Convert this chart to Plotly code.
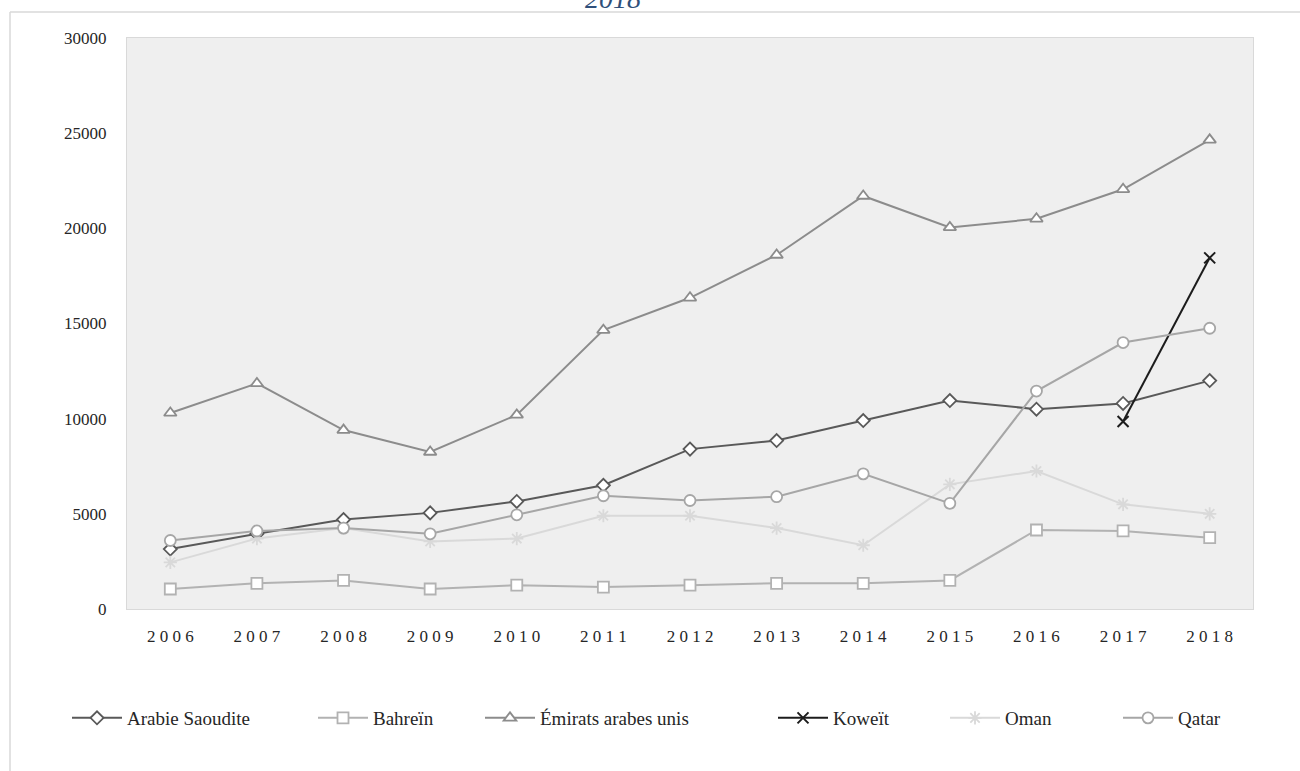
import plotly.graph_objects as go

years = ["2006", "2007", "2008", "2009", "2010", "2011", "2012",
         "2013", "2014", "2015", "2016", "2017", "2018"]
year_ticktext = [" ".join(y) for y in years]

arabie_saoudite = [3150, 3950, 4700, 5050, 5650, 6500, 8400, 8850, 9900, 10950, 10500, 10800, 12000]
bahrein = [1050, 1350, 1500, 1050, 1250, 1150, 1250, 1350, 1350, 1500, 4150, 4100, 3750]
emirats = [10300, 11850, 9400, 8250, 10200, 14650, 16350, 18600, 21700, 20050, 20500, 22050, 24650]
koweit = [None, None, None, None, None, None, None, None, None, None, None, 9850, 18450]
oman = [2450, 3700, 4250, 3550, 3700, 4900, 4900, 4250, 3350, 6550, 7250, 5500, 5000]
qatar = [3600, 4100, 4250, 3950, 4950, 5950, 5700, 5900, 7100, 5550, 11450, 14000, 14750]

series_names = ["Arabie Saoudite", "Bahreïn", "Émirats arabes unis", "Koweït", "Oman", "Qatar"]
series_values = [arabie_saoudite, bahrein, emirats, koweit, oman, qatar]

title_text = "2018"

FONT = "Liberation Serif, DejaVu Serif, serif"

# page geometry (pixels)
W, H = 1300, 771
L, R, T, B = 127, 1253, 38, 609


def px_x(p):
    return (p - L) / (R - L)


def px_y(p):
    return (B - p) / (B - T)


styles = [
    dict(color="#595959", symbol="diamond", size=10, fill="white", mlw=1.8),
    dict(color="#b2b2b2", symbol="square", size=11, fill="white", mlw=1.8),
    dict(color="#8c8c8c", symbol="triangle-up", size=11, fill="white", mlw=1.8),
    dict(color="#1c1c1c", symbol="x-thin", size=11, fill="#1c1c1c", mlw=2),
    dict(color="#d9d9d9", symbol="asterisk", size=11, fill="#d9d9d9", mlw=1.8),
    dict(color="#a6a6a6", symbol="circle", size=11, fill="white", mlw=1.8),
]

legend_line_starts = [72, 318, 485, 778, 950, 1123]
legend_keys = ["legend", "legend2", "legend3", "legend4", "legend5", "legend6"]

fig = go.Figure()
for name, vals, st, lk in zip(series_names, series_values, styles, legend_keys):
    fig.add_trace(go.Scatter(
        x=years, y=vals, name=name, mode="lines+markers",
        line=dict(color=st["color"], width=2),
        marker=dict(symbol=st["symbol"], size=st["size"], color=st["fill"],
                    line=dict(color=st["color"], width=st["mlw"])),
        connectgaps=False, legend=lk,
    ))

layout_legends = {}
for lk, start in zip(legend_keys, legend_line_starts):
    layout_legends[lk] = dict(
        orientation="h", x=px_x(start - 5), xanchor="left",
        y=px_y(718), yanchor="middle", bgcolor="rgba(0,0,0,0)",
        font=dict(family=FONT, size=19, color="#262626"),
        itemwidth=50, borderwidth=0,
    )

fig.update_layout(
    width=W, height=H, autosize=False,
    margin=dict(l=L, r=W - R, t=T, b=H - B, pad=0),
    paper_bgcolor="white", plot_bgcolor="#efefef",
    showlegend=True,
    xaxis=dict(type="category", range=[-0.5, 12.5], tickvals=years, ticktext=year_ticktext,
               showgrid=False, zeroline=False, showline=True, mirror=True,
               linecolor="#d9d9d9", linewidth=1, ticks="",
               ticklabelstandoff=12,
               tickfont=dict(family=FONT, size=17, color="#262626")),
    yaxis=dict(range=[0, 30000], dtick=5000, tickformat="d",
               showgrid=False, zeroline=False, showline=True, mirror=True,
               linecolor="#d9d9d9", linewidth=1, ticks="",
               ticklabelstandoff=16,
               tickfont=dict(family=FONT, size=17, color="#262626")),
    **layout_legends,
)

# outer chart frame (top and left edges visible)
fig.add_shape(type="line", xref="paper", yref="paper",
              x0=px_x(10), x1=px_x(1300), y0=px_y(12), y1=px_y(12),
              line=dict(color="#d9d9d9", width=1.5))
fig.add_shape(type="line", xref="paper", yref="paper",
              x0=px_x(10), x1=px_x(10), y0=px_y(12), y1=px_y(771),
              line=dict(color="#d9d9d9", width=1.5))

# title, mostly cut off above the page (as in the reference)
fig.add_annotation(text=title_text, xref="paper", yref="paper",
                   x=px_x(613), y=px_y(16), xanchor="center", yanchor="bottom",
                   showarrow=False,
                   font=dict(family=FONT, size=28, color="#2f4f7a", style="italic"))

fig.write_html("out.html", config={"displayModeBar": False},
               post_script="document.body.style.margin='0';document.body.style.overflow='hidden';")
